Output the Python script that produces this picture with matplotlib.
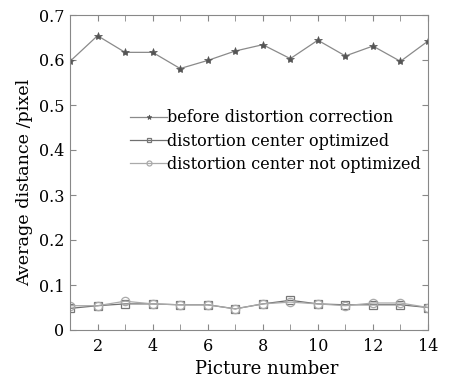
import matplotlib
matplotlib.use("Agg")
import matplotlib.pyplot as plt
import numpy as np

pictures = list(range(1, 15))
before = [0.597, 0.654, 0.617, 0.617, 0.581, 0.599, 0.620, 0.634, 0.603, 0.644, 0.609, 0.631, 0.597, 0.642]
center_opt = [0.048, 0.054, 0.058, 0.058, 0.056, 0.056, 0.047, 0.058, 0.066, 0.058, 0.056, 0.056, 0.056, 0.050]
center_not = [0.054, 0.054, 0.064, 0.058, 0.056, 0.056, 0.047, 0.058, 0.062, 0.058, 0.054, 0.060, 0.060, 0.050]
labels = ["before distortion correction", "distortion center optimized", "distortion center not optimized"]

plt.rcParams['font.family'] = ['DejaVu Serif']
fig = plt.figure(figsize=(4.59, 3.8), dpi=100)
ax = fig.add_axes([70/459, 1-330/380, (428-70)/459, (330-15)/380])

lc = '#8a8a8a'
ax.plot(pictures, before, color=lc, lw=0.9, marker='*', ms=6, mfc='#555555', mec='#555555', mew=0.5, label=labels[0])
ax.plot(pictures, center_opt, color='#707070', lw=0.9, marker='s', ms=6, mfc='none', mec='#777777', mew=0.9, label=labels[1])
ax.plot(pictures, center_not, color='#aaaaaa', lw=0.9, marker='o', ms=6, mfc='none', mec='#aaaaaa', mew=0.9, label=labels[2])

ax.set_xlim(1, 14)
ax.set_ylim(0, 0.7)
ax.set_xticks(range(2, 15, 2))
ax.set_xticks(range(1, 15), minor=True)
ax.set_yticks(np.arange(0, 0.71, 0.1))
ax.set_yticklabels(['0', '0.1', '0.2', '0.3', '0.4', '0.5', '0.6', '0.7'])
ax.tick_params(which='both', direction='in', top=True, right=True, labelsize=11.5, color='#888888', length=4)
ax.tick_params(axis='x', pad=6)
ax.tick_params(axis='y', pad=4)
for s in ax.spines.values():
    s.set_color('#888888')
    s.set_linewidth(0.8)

ax.set_xlabel('Picture number', fontsize=13, labelpad=3)
ax.xaxis.label.set_x(0.55)
ax.set_ylabel('Average distance /pixel', fontsize=12.6, labelpad=4)
ax.yaxis.label.set_y(0.468)

leg = ax.legend(loc='upper left', bbox_to_anchor=(0.146, 0.726), frameon=False, fontsize=11.5,
                handlelength=2.3, handletextpad=0.0, labelspacing=0.4, markerscale=0.6, borderpad=0)

fig.savefig('out.png', dpi=100, facecolor='white')
